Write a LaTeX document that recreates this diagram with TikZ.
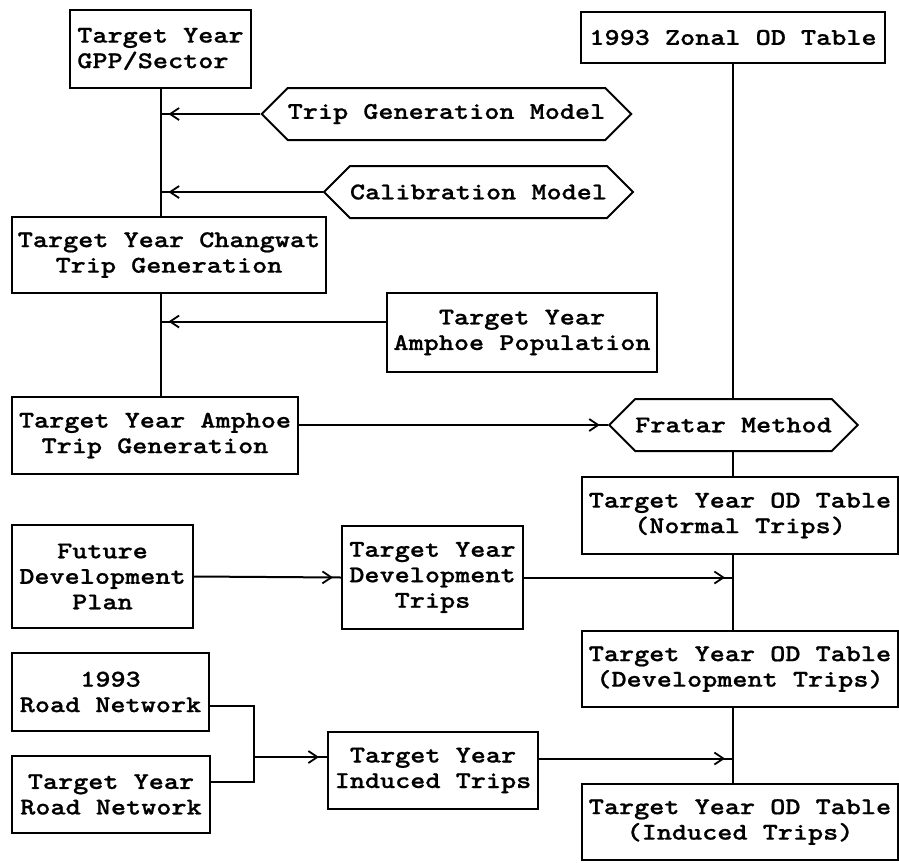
\documentclass[tikz,border=0pt]{standalone}
\usepackage{fontspec}
\newfontfamily\boxfont{lmmonolt10-bold.otf}[FakeStretch=1.2,FakeBold=0.8]
\usepackage{tikz}
\usetikzlibrary{shapes.symbols}
\usetikzlibrary{arrows.meta}
\usetikzlibrary{decorations.markings}

\tikzset{
  box/.style={draw, line width=2pt, align=center, inner sep=0pt,
    font=\boxfont\fontsize{24}{25.5}\selectfont},
  hexa/.style={box, signal, signal to=west and east, signal pointer angle=90},
  link/.style={line width=2pt},
  feed/.style={link, postaction=decorate, decoration={markings,
    mark=at position -8pt with {\arrow[line width=1.8pt]{Straight Barb[length=9pt,width=12pt]}}}}
}

\begin{document}
\begin{tikzpicture}[x=1pt,y=-1pt]
    \useasboundingbox (0,0) rectangle (899,862);
    % left column
    \node[box, align=left, minimum width=181, minimum height=78] (gpp) at (160.5,49) {Target Year\\GPP/Sector};
    \node[hexa, minimum width=367, minimum height=52] (tgm) at (446.5,114) {Trip Generation Model};
    \node[hexa, minimum width=303, minimum height=52] (cal) at (478.5,192) {Calibration Model};
    \node[box, minimum width=314, minimum height=76] (chw) at (169,255) {Target Year Changwat\\Trip Generation};
    \node[box, minimum width=270, minimum height=79] (apop) at (522,332.5) {Target Year\\Amphoe Population};
    \node[box, minimum width=286, minimum height=77] (atg) at (155,435.5) {Target Year Amphoe\\Trip Generation};
    \node[box, minimum width=181, minimum height=103] (fdp) at (102.5,576.5) {Future\\Development\\Plan};
    \node[box, minimum width=181, minimum height=103] (dtr) at (432.5,577.5) {Target Year\\Development\\Trips};
    \node[box, minimum width=197, minimum height=78] (rn93) at (110.5,692) {1993\\Road Network};
    \node[box, minimum width=198, minimum height=77] (rnty) at (111,794.5) {Target Year\\Road Network};
    \node[box, minimum width=210, minimum height=77] (ind) at (433,770.5) {Target Year\\Induced Trips};
    % right column
    \node[box, minimum width=304, minimum height=51] (zonal) at (733,37.5) {1993 Zonal OD Table};
    \node[hexa, minimum width=247, minimum height=52] (fratar) at (733.5,425) {Fratar Method};
    \node[box, minimum width=316, minimum height=77] (odn) at (740,515.5) {Target Year OD Table\\(Normal Trips)};
    \node[box, minimum width=316, minimum height=76] (odd) at (740,669) {Target Year OD Table\\(Development Trips)};
    \node[box, minimum width=316, minimum height=76] (odi) at (740,822) {Target Year OD Table\\(Induced Trips)};
    \coordinate (jn) at (254,757);
    %
    \draw[link] (gpp.south) -- (gpp.south |- chw.north);
    \draw[link] (gpp.south |- chw.south) -- (gpp.south |- atg.north);
    \draw[feed] (tgm.west) -- (tgm.west -| gpp.south);
    \draw[feed] (cal.west) -- (cal.west -| gpp.south);
    \draw[feed] ([yshift=11pt]apop.west) -- ([yshift=11pt]apop.west -| gpp.south);
    \draw[feed] (atg.east |- fratar.west) -- (fratar.west);
    \draw[feed] (fdp.east) -- (dtr.west);
    \draw[feed] (dtr.east) -- (dtr.east -| zonal.south);
    \draw[link] ([yshift=-14pt]rn93.east) -| (jn);
    \draw[link] ([yshift=12.5pt]rnty.east) -| (jn);
    \draw[feed] (jn) -- (jn -| ind.west);
    \draw[feed] ([yshift=12pt]ind.east) -- ([yshift=12pt]ind.east -| zonal.south);
    %
    \draw[link] (zonal.south) -- (zonal.south |- fratar.north);
    \draw[link] (zonal.south |- fratar.south) -- (zonal.south |- odn.north);
    \draw[link] (zonal.south |- odn.south) -- (zonal.south |- odd.north);
    \draw[link] (zonal.south |- odd.south) -- (zonal.south |- odi.north);
\end{tikzpicture}
\end{document}
